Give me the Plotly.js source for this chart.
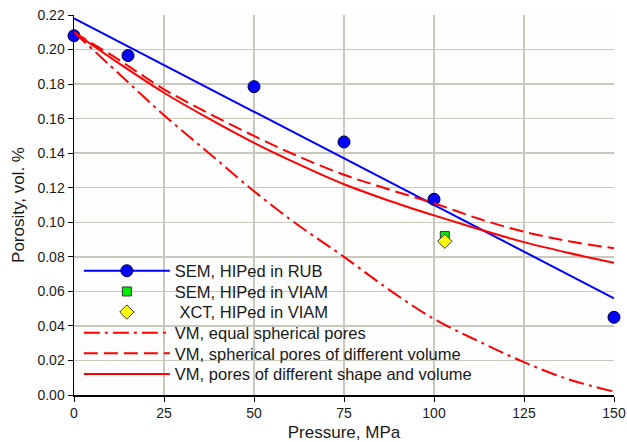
<!DOCTYPE html>
<html><head><meta charset="utf-8">
<script src="https://cdn.plot.ly/plotly-3.0.1.min.js"></script>
<style>body{margin:0;background:#fff}#chart{width:627px;height:442px}</style>
</head><body><div id="chart"></div>
<script>
// SEM, HIPed in RUB
const rubP = [0, 15, 50, 75, 100, 150];
const rubPor = [0.208, 0.1965, 0.1785, 0.1465, 0.1133, 0.045];
// linear fit line endpoints
const fitP = [0, 150];
const fitPor = [0.218, 0.056];
// VIAM points
const viamSemP = [103];
const viamSemPor = [0.092];
const viamXctP = [103];
const viamXctPor = [0.089];
// Model curves
const modelP = [0, 12.5, 25, 37.5, 50, 62.5, 75, 87.5, 100, 112.5, 125, 137.5, 150];
const vmEqual = [0.210, 0.186, 0.162, 0.140, 0.118, 0.098, 0.080, 0.061, 0.044, 0.031, 0.019, 0.009, 0.002];
const vmSpherDiff = [0.210, 0.194, 0.177, 0.163, 0.150, 0.138, 0.1275, 0.119, 0.111, 0.102, 0.0945, 0.089, 0.085];
const vmShapeDiff = [0.210, 0.192, 0.175, 0.160, 0.146, 0.1335, 0.122, 0.1125, 0.104, 0.096, 0.0885, 0.0822, 0.0765];
const xTicks = [0, 25, 50, 75, 100, 125, 150];
const names = ["SEM, HIPed in RUB", "SEM, HIPed in VIAM", " XCT, HIPed in VIAM",
  "VM, equal spherical pores", "VM, spherical pores of different volume", "VM, pores of different shape and volume"];

const red = '#ff0000';
const traces = [
  {x: fitP, y: fitPor, mode: 'lines', line: {color: '#0000ff', width: 2}, showlegend: false, hoverinfo: 'skip'},
  {x: rubP, y: rubPor, mode: 'markers', name: names[0], showlegend: false, cliponaxis: false,
   marker: {color: '#0000ff', size: 12, line: {color: '#000033', width: 1}}},
  {x: [null], y: [null], mode: 'lines+markers', name: names[0], legend: 'legend',
   line: {color: '#0000ff', width: 2}, marker: {color: '#0000ff', size: 12, line: {color: '#000033', width: 1}}},
  {x: viamSemP, y: viamSemPor, mode: 'markers', name: names[1], legend: 'legend2',
   marker: {symbol: 'square', color: '#00ee00', size: 9, line: {color: '#333', width: 1}}},
  {x: viamXctP, y: viamXctPor, mode: 'markers', name: names[2], legend: 'legend3',
   marker: {symbol: 'diamond', color: '#ffff00', size: 11, line: {color: '#333', width: 1}}},
  {x: modelP, y: vmEqual, mode: 'lines', name: names[3], legend: 'legend4', line: {color: red, width: 2, dash: '16px,5px,3px,5px', shape: 'spline'}},
  {x: modelP, y: vmSpherDiff, mode: 'lines', name: names[4], legend: 'legend5', line: {color: red, width: 2, dash: '14px,6px', shape: 'spline'}},
  {x: modelP, y: vmShapeDiff, mode: 'lines', name: names[5], legend: 'legend6', line: {color: red, width: 2, shape: 'spline'}}
];
const legendRowsY = [0.3263, 0.2718, 0.2176, 0.1632, 0.1089, 0.0545];
function leg(y) {
  return {x: 0.009, y: y, xanchor: 'left', yanchor: 'middle', bgcolor: 'rgba(0,0,0,0)', borderwidth: 0,
    font: {size: 16.5, color: '#1a1a1a'}, itemwidth: 86, tracegroupgap: 0};
}
const layout = {
  width: 627, height: 442,
  margin: {l: 74, r: 13, t: 15, b: 47},
  paper_bgcolor: '#ffffff', plot_bgcolor: '#fdfdfd',
  font: {family: 'Liberation Sans, Arial, sans-serif', size: 14, color: '#1a1a1a'},
  showlegend: true,
  legend: leg(legendRowsY[0]), legend2: leg(legendRowsY[1]), legend3: leg(legendRowsY[2]),
  legend4: leg(legendRowsY[3]), legend5: leg(legendRowsY[4]), legend6: leg(legendRowsY[5]),
  xaxis: {range: [0, 150], tickvals: xTicks, ticktext: xTicks.map(String), showgrid: true, gridcolor: '#c8c8bc', gridwidth: 1.5,
    zeroline: false, showline: true, linecolor: '#000', linewidth: 1.5, ticks: 'outside', ticklen: 5, tickcolor: '#000',
    tickfont: {size: 14}, title: {text: 'Pressure, MPa', font: {size: 17}, standoff: 6}},
  yaxis: {range: [0, 0.22], dtick: 0.02, tickformat: '.2f', showgrid: true, gridcolor: '#c8c8bc', gridwidth: 1.5,
    zeroline: false, showline: true, linecolor: '#000', linewidth: 1.5, ticks: 'outside', ticklen: 5, tickcolor: '#000',
    tickfont: {size: 14}, title: {text: 'Porosity, vol. %', font: {size: 17}, standoff: 8}}
};
Plotly.newPlot('chart', traces, layout, {displayModeBar: false, staticPlot: true});
</script></body></html>
